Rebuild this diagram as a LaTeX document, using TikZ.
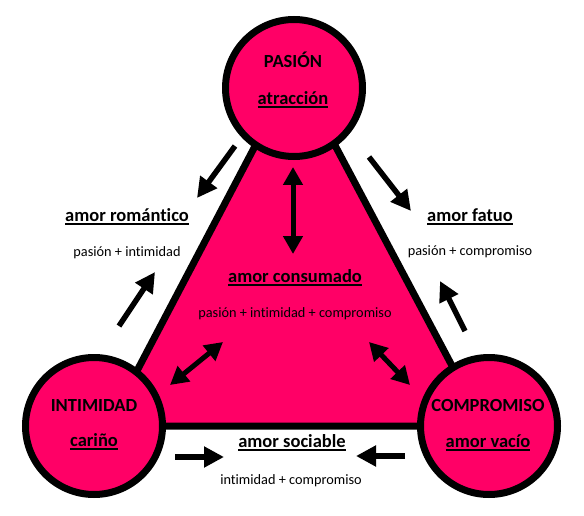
\documentclass[tikz,border=0pt]{standalone}
\usepackage{fontspec}
\setmainfont{Carlito}[Ligatures=NoCommon]
\usetikzlibrary{arrows.meta}
\definecolor{lovepink}{RGB}{255,0,102}
\newsavebox\ulbox
\newcommand\myul[1]{\sbox\ulbox{#1}\rlap{\usebox\ulbox}\rule[-3pt]{\wd\ulbox}{1.5pt}}
\tikzset{
  big/.style={inner sep=0pt, font=\fontsize{18.5}{20}\selectfont\bfseries},
  small/.style={inner sep=0pt, font=\fontsize{14.3}{16}\selectfont},
  lovecircle/.style={circle, draw=black, fill=lovepink, line width=7pt, minimum size=137pt, inner sep=0pt},
  fat/.style={line width=5.5pt, -{Triangle[length=20pt,width=20pt]}},
  fatboth/.style={line width=5pt, {Triangle[length=18pt,width=19pt]}-{Triangle[length=18pt,width=19pt]}},
}
\begin{document}
\begin{tikzpicture}[x=1pt,y=-1pt]
\useasboundingbox (0,0) rectangle (584,516);
% triangle
\coordinate (tA) at (295,70);
\coordinate (tB) at (108,426);
\coordinate (tC) at (484,426);
\draw[line width=7pt, fill=lovepink, line join=miter] (tA) -- (tB) -- (tC) -- cycle;
% circles
\node[lovecircle] (pas) at (294,88) {};
\node[lovecircle] (int) at (94,426) {};
\node[lovecircle] (com) at (489,426) {};
% circle texts
\node[big] (pasT) at (293,60) {PASIÓN};
\node[big] (pasS) at (293,100) {\myul{atracción}};
\node[big] (intT) at (94,405) {INTIMIDAD};
\node[big] (intS) at (94,442) {\myul{cariño}};
\node[big] (comT) at (488,405) {COMPROMISO};
\node[big] (comS) at (488,443) {\myul{amor vacío}};
% labels
\node[big] (rom) at (127,217) {\myul{amor romántico}};
\node[small] (romS) at (127,253) {pasión + intimidad};
\node[big] (fat) at (470,217) {\myul{amor fatuo}};
\node[small] (fatS) at (470,252) {pasión + compromiso};
\node[big] (cons) at (295,278) {\myul{amor consumado}};
\node[small] (consS) at (295,314) {pasión + intimidad + compromiso};
\node[big] (soc) at (292,443) {\myul{amor sociable}};
\node[small] (socS) at (291,481) {intimidad + compromiso};
% arrow coordinates
\coordinate (a1s) at (235,146); \coordinate (a1e) at (197,198);
\coordinate (a2s) at (119,326); \coordinate (a2e) at (155,272);
\coordinate (a3s) at (369,157); \coordinate (a3e) at (411,211);
\coordinate (a4s) at (465,331); \coordinate (a4e) at (440,281);
\coordinate (a5s) at (175,457); \coordinate (a5e) at (224,457);
\coordinate (a6s) at (405,456); \coordinate (a6e) at (356,456);
\coordinate (d1s) at (293,167); \coordinate (d1e) at (293,254);
\coordinate (d2s) at (170,385); \coordinate (d2e) at (223,342);
\coordinate (d3s) at (369,342); \coordinate (d3e) at (410,385);
\draw[fat] (a1s) -- (a1e);
\draw[fat] (a2s) -- (a2e);
\draw[fat] (a3s) -- (a3e);
\draw[fat] (a4s) -- (a4e);
\draw[fat] (a5s) -- (a5e);
\draw[fat] (a6s) -- (a6e);
\draw[fatboth] (d1s) -- (d1e);
\draw[fatboth] (d2s) -- (d2e);
\draw[fatboth] (d3s) -- (d3e);
\end{tikzpicture}
\end{document}
